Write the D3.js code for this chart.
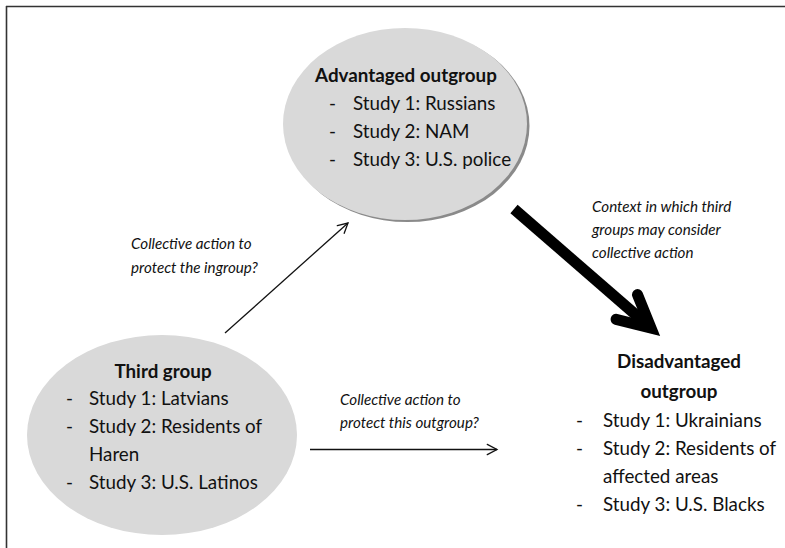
<!DOCTYPE html>
<html>
<head>
<meta charset="utf-8">
<script src="https://cdn.jsdelivr.net/npm/d3@7/dist/d3.min.js"></script>
<style>
  html, body { margin: 0; padding: 0; background: #fff; }
  svg { display: block; }
  text { font-family: Lato, "Open Sans", sans-serif; fill: #111; }
</style>
</head>
<body>
<svg id="chart" width="785" height="548"></svg>
<script>
// ---- content (text) ----
const advantagedTitle = ["Advantaged outgroup"];
const advantagedItems = [
  { dash: true, text: "Study 1: Russians" },
  { dash: true, text: "Study 2: NAM" },
  { dash: true, text: "Study 3: U.S. police" }
];
const thirdTitle = ["Third group"];
const thirdItems = [
  { dash: true, text: "Study 1: Latvians" },
  { dash: true, text: "Study 2: Residents of" },
  { dash: false, text: "Haren" },
  { dash: true, text: "Study 3: U.S. Latinos" }
];
const disadvantagedTitle = ["Disadvantaged", "outgroup"];
const disadvantagedItems = [
  { dash: true, text: "Study 1: Ukrainians" },
  { dash: true, text: "Study 2: Residents of" },
  { dash: false, text: "affected areas" },
  { dash: true, text: "Study 3: U.S. Blacks" }
];
const labelIngroup = ["Collective action to", "protect the ingroup?"];
const labelOutgroup = ["Collective action to", "protect this outgroup?"];
const labelContext = ["Context in which third", "groups may consider", "collective action"];

// ---- layout ----
const svg = d3.select("#chart");
const W = 785, H = 548;

// frame (top and left edges)
svg.append("line").attr("x1", 6).attr("y1", 6.5).attr("x2", W).attr("y2", 6.5)
  .attr("stroke", "#333").attr("stroke-width", 1.6);
svg.append("line").attr("x1", 6.5).attr("y1", 6).attr("x2", 6.5).attr("y2", H)
  .attr("stroke", "#333").attr("stroke-width", 1.6);

const ellipses = [
  { cx: 405, cy: 124, rx: 122, ry: 96, shadow: true },
  { cx: 162, cy: 435, rx: 135, ry: 100, shadow: false }
];
const eg = svg.append("g");
eg.selectAll("ellipse.shadow").data(ellipses.filter(d => d.shadow)).join("ellipse")
  .attr("class", "shadow")
  .attr("cx", d => d.cx + 2.5).attr("cy", d => d.cy + 2)
  .attr("rx", d => d.rx).attr("ry", d => d.ry)
  .attr("fill", "#8a8a8a");
eg.selectAll("ellipse.body").data(ellipses).join("ellipse")
  .attr("class", "body")
  .attr("cx", d => d.cx).attr("cy", d => d.cy)
  .attr("rx", d => d.rx).attr("ry", d => d.ry)
  .attr("fill", "#d9d9d9");

const FS = 18.8, LH = 28;
function block(titleLines, items, o) {
  const g = svg.append("g");
  g.selectAll("text.title").data(titleLines).join("text")
    .attr("class", "title")
    .attr("x", o.titleX).attr("y", (d, i) => o.titleY + i * 30)
    .attr("text-anchor", "middle")
    .attr("font-weight", "bold").attr("font-size", FS)
    .text(d => d);
  const rows = g.selectAll("g.row").data(items).join("g").attr("class", "row")
    .attr("transform", (d, i) => `translate(0,${o.itemY + i * LH})`);
  rows.filter(d => d.dash).append("text")
    .attr("x", o.dashX).attr("font-size", FS).text("-");
  rows.append("text")
    .attr("x", o.textX).attr("font-size", FS).text(d => d.text);
}
block(advantagedTitle, advantagedItems, { titleX: 406, titleY: 82, itemY: 110, dashX: 329, textX: 353 });
block(thirdTitle, thirdItems, { titleX: 163, titleY: 378, itemY: 405, dashX: 66, textX: 89 });
block(disadvantagedTitle, disadvantagedItems, { titleX: 679, titleY: 368, itemY: 427, dashX: 576, textX: 603 });

function italicLabel(lines, x, y, lh) {
  svg.append("g").selectAll("text").data(lines).join("text")
    .attr("x", x).attr("y", (d, i) => y + i * lh)
    .attr("font-style", "italic").attr("font-size", 15.2)
    .text(d => d);
}
italicLabel(labelIngroup, 131, 249, 24);
italicLabel(labelOutgroup, 340, 405, 23);
italicLabel(labelContext, 592, 212, 23);

// arrows
const arrows = [
  { x1: 225, y1: 333, x2: 348, y2: 223, w: 1.3, head: 11, ang: 28, color: "#111" },
  { x1: 310, y1: 449.5, x2: 497, y2: 449.5, w: 1.3, head: 11, ang: 28, color: "#111" },
  { x1: 514, y1: 209, x2: 651, y2: 328, w: 11, head: 36, ang: 27, color: "#000" }
];
const line = d3.line();
const ag = svg.append("g");
arrows.forEach(a => {
  const th = Math.atan2(a.y2 - a.y1, a.x2 - a.x1);
  const r = a.ang * Math.PI / 180;
  const p1 = [a.x2 - a.head * Math.cos(th - r), a.y2 - a.head * Math.sin(th - r)];
  const p2 = [a.x2 - a.head * Math.cos(th + r), a.y2 - a.head * Math.sin(th + r)];
  ag.append("path").attr("d", line([[a.x1, a.y1], [a.x2, a.y2]]))
    .attr("stroke", a.color).attr("stroke-width", a.w).attr("fill", "none")
    .attr("stroke-linecap", "butt");
  ag.append("path").attr("d", line([p1, [a.x2, a.y2], p2]))
    .attr("stroke", a.color).attr("stroke-width", a.w).attr("fill", "none")
    .attr("stroke-linecap", "round").attr("stroke-linejoin", "miter").attr("stroke-miterlimit", 10);
});
</script>
</body>
</html>
